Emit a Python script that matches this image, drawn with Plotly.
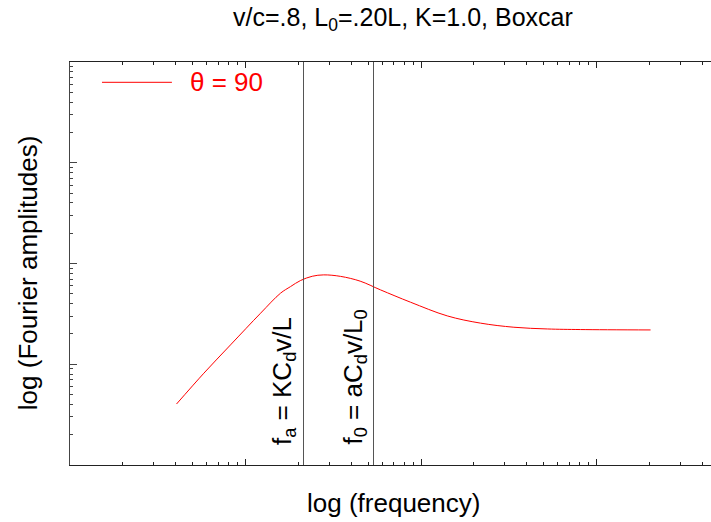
import numpy as np
import plotly.graph_objects as go

# Curve (theta = 90)
freq = [4.045, 5.79, 8.21, 12.18, 15.83, 18.05, 20.58, 24.0, 27.9, 34.8, 45.0, 58.8, 87.1,
        141, 218, 338, 524, 811, 2031]
amp = [0.0403, 0.0815, 0.1556, 0.321, 0.5075, 0.590, 0.678, 0.747, 0.771, 0.745, 0.668, 0.547,
       0.413, 0.302, 0.256, 0.233, 0.224, 0.221, 0.219]

# Marker frequencies
f_a = 21.4
f_0 = 53.6
y_span = [0.01, 100]

xr = [0, 3.652]
yr = [-2, 2]

FONT = "Liberation Sans, Arial, Helvetica, sans-serif"

fig = go.Figure()
fig.add_trace(go.Scatter(x=freq, y=amp, mode="lines",
                         line=dict(color="#ff0000", width=1, shape="spline", smoothing=1.0),
                         showlegend=False))
for fv in (f_a, f_0):
    fig.add_trace(go.Scatter(x=[fv, fv], y=y_span, mode="lines",
                             line=dict(color="#555555", width=1), showlegend=False))

def minor_vals(lo, hi):
    v = []
    for d in range(lo, hi + 1):
        for m in range(2, 10):
            v.append(m * 10.0 ** d)
    return v

fig.update_xaxes(type="log", range=xr, showgrid=False, zeroline=False,
                 showline=True, linecolor="#222", linewidth=1, mirror="allticks",
                 ticks="inside", ticklen=6, tickcolor="#222", tickwidth=1,
                 tickvals=[1, 10, 100, 1000], showticklabels=False,
                 minor=dict(tickvals=minor_vals(0, 3), ticks="inside", ticklen=3,
                            tickcolor="#222", tickwidth=1, showgrid=False))
fig.update_yaxes(type="log", range=yr, showgrid=False, zeroline=False,
                 showline=True, linecolor="#444", linewidth=1, mirror=False,
                 ticks="inside", ticklen=7, tickcolor="#444", tickwidth=1,
                 tickvals=[0.01, 0.1, 1, 10, 100], showticklabels=False,
                 minor=dict(tickvals=minor_vals(-2, 1), ticks="inside", ticklen=3,
                            tickcolor="#444", tickwidth=1, showgrid=False))

annos = [
    dict(text="v/c=.8, L<sub>0</sub>=.20L, K=1.0, Boxcar", xref="paper", yref="paper",
         x=0.5195, y=1.1067, xanchor="center", yanchor="middle", showarrow=False,
         font=dict(size=25, color="black", family=FONT)),
    dict(text="log (frequency)", xref="paper", yref="paper",
         x=0.5047, y=-0.0943, xanchor="center", yanchor="middle", showarrow=False,
         font=dict(size=26, color="black", family=FONT)),
    dict(text="log (Fourier amplitudes)", xref="paper", yref="paper", textangle=-90,
         x=-0.0655, y=0.476, xanchor="center", yanchor="middle", showarrow=False,
         font=dict(size=26, color="black", family=FONT)),
    dict(text="θ = 90", xref="paper", yref="paper",
         x=0.184, y=0.95, xanchor="left", yanchor="middle", showarrow=False,
         font=dict(size=26, color="#ff0000", family=FONT)),
    dict(text="f<sub>a</sub> = KC<sub>d</sub>v/L", xref="x", yref="y", textangle=-90,
         x=np.log10(f_a), y=-1.821, xanchor="right", yanchor="bottom", xshift=-1,
         showarrow=False, font=dict(size=26, color="black", family=FONT)),
    dict(text="f<sub>0</sub> = aC<sub>d</sub>v/L<sub>0</sub>", xref="x", yref="y", textangle=-90,
         x=np.log10(f_0), y=-1.821, xanchor="right", yanchor="bottom", xshift=-1,
         showarrow=False, font=dict(size=26, color="black", family=FONT)),
]

fig.update_layout(
    width=711, height=522,
    margin=dict(l=70, r=0, t=62, b=57),
    paper_bgcolor="white", plot_bgcolor="white",
    annotations=annos,
    shapes=[dict(type="line", xref="paper", yref="paper", x0=0.0499, x1=0.159, y0=0.9496, y1=0.9496,
                 line=dict(color="#ff0000", width=1))],
    showlegend=False,
)

fig.write_html("out.html")
